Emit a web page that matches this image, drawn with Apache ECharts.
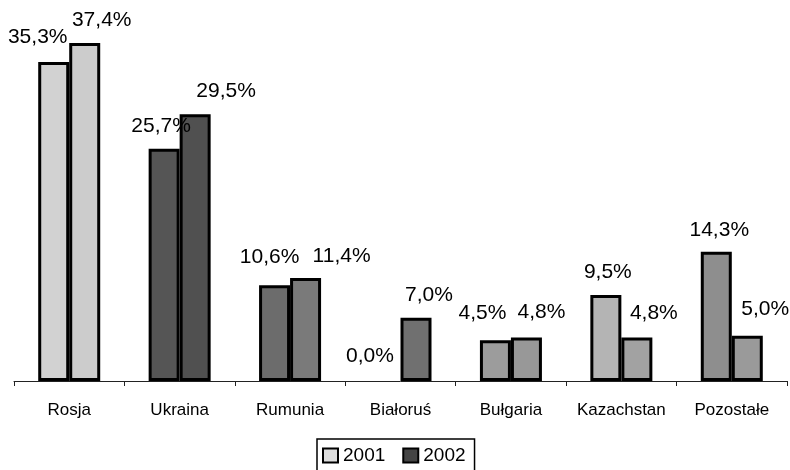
<!DOCTYPE html>
<html>
<head>
<meta charset="utf-8">
<script src="https://cdn.jsdelivr.net/npm/echarts@6/dist/echarts.min.js"></script>
<style>
  html, body { margin: 0; padding: 0; background: #fff; }
  #chart { width: 790px; height: 470px; }
</style>
</head>
<body>
<div id="chart"></div>
<script>
// Udział krajów w imporcie (%), lata 2001 i 2002
const categories = ['Rosja', 'Ukraina', 'Rumunia', 'Białoruś', 'Bułgaria', 'Kazachstan', 'Pozostałe'];
const seriesNames = ['2001', '2002'];
const values2001 = [35.3, 25.7, 10.6, 0.0, 4.5, 9.5, 14.3];
const values2002 = [37.4, 29.5, 11.4, 7.0, 4.8, 4.8, 5.0];

// fill tone of each bar
const fill2001 = ['#d2d2d2', '#555555', '#6c6c6c', '#6c6c6c', '#9c9c9c', '#b4b4b4', '#8e8e8e'];
const fill2002 = ['#cccccc', '#505050', '#7a7a7a', '#707070', '#989898', '#a2a2a2', '#9a9a9a'];

// label placement relative to the top centre of each bar [dx, dy]
const labelShift2001 = [[-16, 25], [-3, 22], [-5, 28], [-15, 25], [-13, 27], [2, 23], [3, 22]];
const labelShift2002 = [[17, 23], [31, 23], [36, 22], [13, 23], [15, 25], [17, 24], [18, 27]];

const FONT = '"Liberation Sans", Arial, Helvetica, sans-serif';

function fmt(v) {
  return v.toFixed(1).replace('.', ',') + '%';
}

function buildData(values, fills, shifts) {
  return values.map((v, i) => ({
    value: v,
    // a zero-height bar leaves no outline on the axis
    itemStyle: { color: fills[i], borderWidth: v === 0 ? 0 : 3 },
    label: { offset: [shifts[i][0], -shifts[i][1]] }
  }));
}

const chart = echarts.init(document.getElementById('chart'), null, { renderer: 'canvas' });

const barCommon = {
  type: 'bar',
  barWidth: 31,
  barGap: '0%',
  itemStyle: { borderColor: '#000', borderWidth: 3 },
  label: {
    show: true,
    position: 'top',
    distance: 0,
    verticalAlign: 'middle',
    align: 'center',
    fontFamily: FONT,
    fontSize: 21,
    color: '#000',
    formatter: p => fmt(p.value)
  },
  emphasis: { disabled: true },
  animation: false
};

chart.setOption({
  backgroundColor: '#fff',
  animation: false,
  grid: { left: 14, right: 3, top: 19.4, bottom: 89 },
  legend: {
    data: seriesNames,
    left: 317,
    top: 439,
    orient: 'horizontal',
    itemWidth: 15,
    itemHeight: 14,
    itemGap: 17,
    padding: [7, 9, 12, 5],
    borderColor: '#000',
    borderWidth: 1.5,
    icon: 'rect',
    itemStyle: { borderColor: '#000', borderWidth: 2 },
    textStyle: { fontFamily: FONT, fontSize: 19, color: '#000' }
  },
  xAxis: {
    type: 'category',
    data: categories,
    boundaryGap: true,
    axisLine: { show: true, lineStyle: { color: '#222', width: 1 } },
    axisTick: { show: true, alignWithLabel: false, length: 5, inside: false, lineStyle: { color: '#222' } },
    axisLabel: { fontFamily: FONT, fontSize: 17, color: '#000', margin: 21, interval: 0 }
  },
  yAxis: {
    type: 'value',
    min: 0,
    max: 40,
    show: false,
    splitLine: { show: false }
  },
  series: [
    Object.assign({}, barCommon, {
      name: seriesNames[0],
      color: '#dddddd',
      data: buildData(values2001, fill2001, labelShift2001)
    }),
    Object.assign({}, barCommon, {
      name: seriesNames[1],
      color: '#444444',
      data: buildData(values2002, fill2002, labelShift2002)
    })
  ]
});
</script>
</body>
</html>
